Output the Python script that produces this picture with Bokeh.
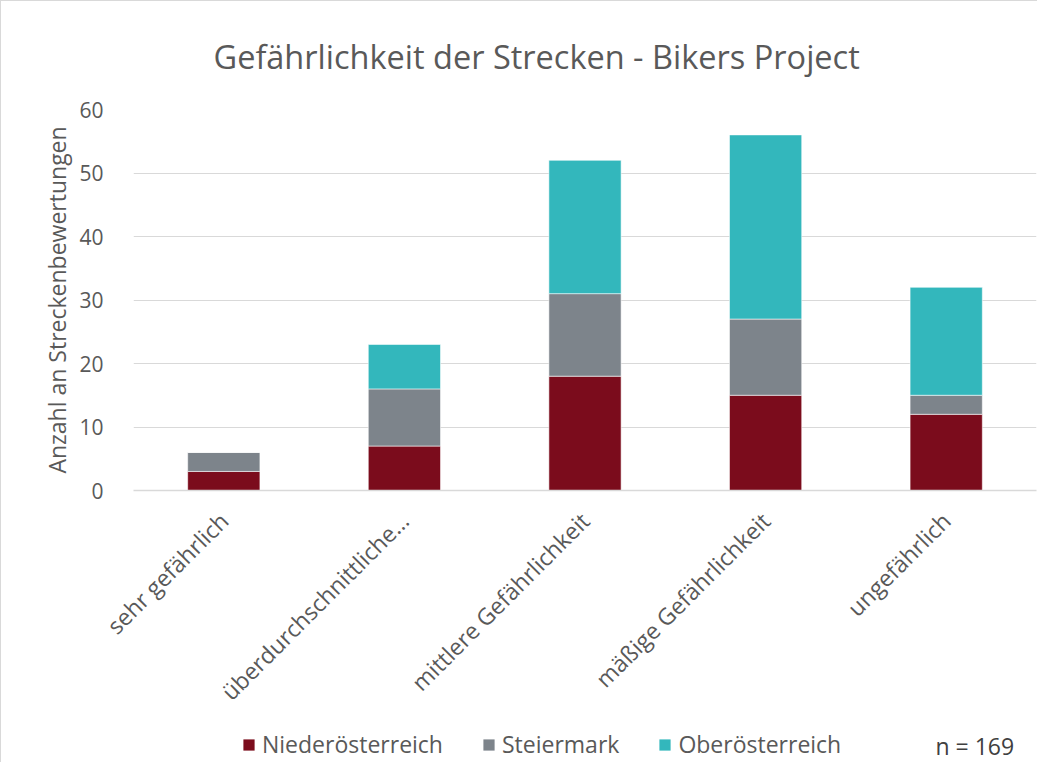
import math
from bokeh.plotting import figure
from bokeh.layouts import column
from bokeh.models import (ColumnDataSource, FactorRange, Range1d, FixedTicker,
                          Legend, LegendItem, Label)
from bokeh.embed import file_html
from bokeh.resources import INLINE

# ---- data ----
categories = ["sehr gefährlich", "überdurchschnittliche…", "mittlere Gefährlichkeit",
              "mäßige Gefährlichkeit", "ungefährlich"]
niederoesterreich = [3, 7, 18, 15, 12]
steiermark = [3, 9, 13, 12, 3]
oberoesterreich = [0, 7, 21, 29, 17]
series_names = ["Niederösterreich", "Steiermark", "Oberösterreich"]
series_colors = ["#7B0C1C", "#7D848B", "#33B7BC"]
y_ticks = [0, 10, 20, 30, 40, 50, 60]
title_text = "Gefährlichkeit der Strecken - Bikers Project"
y_label = "Anzahl an Streckenbewertungen"
n_text = "n = 169"

FONT = "Open Sans"
TXT = "#595959"
W = 1037

src = ColumnDataSource(data={
    "cat": categories,
    series_names[0]: niederoesterreich,
    series_names[1]: steiermark,
    series_names[2]: oberoesterreich,
})

# ---- main chart ----
p = figure(x_range=FactorRange(*categories), y_range=Range1d(0, 60),
           width=W, height=722, output_backend="svg", toolbar_location=None,
           min_border_left=132, min_border_right=2, min_border_top=107,
           min_border_bottom=233)
p.styles = {"border-top": "1px solid #D9D9D9", "border-left": "1px solid #D9D9D9"}

p.vbar_stack(series_names, x="cat", width=0.4, color=series_colors,
             source=src, line_color="white", line_width=0.8, line_alpha=0.7)

p.title.text = title_text
p.title.align = "left"
p.title.offset = 80
p.title.text_font = FONT
p.title.text_font_size = "32.5px"
p.title.text_font_style = "normal"
p.title.text_color = TXT
p.title.standoff = 61

p.outline_line_color = None
p.xgrid.grid_line_color = None
p.ygrid.ticker = FixedTicker(ticks=y_ticks)
p.ygrid.grid_line_color = "#D9D9D9"
p.ygrid.grid_line_width = 1

p.yaxis.ticker = FixedTicker(ticks=y_ticks)
p.yaxis.axis_line_color = None
p.yaxis.major_tick_line_color = None
p.yaxis.minor_tick_line_color = None
p.yaxis.major_label_standoff = 24
p.yaxis.major_label_text_font = FONT
p.yaxis.major_label_text_font_size = "21px"
p.yaxis.major_label_text_color = TXT
p.yaxis.axis_label = y_label
p.yaxis.axis_label_text_font = FONT
p.yaxis.axis_label_text_font_size = "23px"
p.yaxis.axis_label_text_font_style = "normal"
p.yaxis.axis_label_text_color = TXT
p.yaxis.axis_label_standoff = 3

p.xaxis.axis_line_color = "#D9D9D9"
p.xaxis.axis_line_width = 1.5
p.xaxis.major_tick_line_color = None
p.xaxis.minor_tick_line_color = None
p.xaxis.major_label_orientation = math.pi / 4
p.xaxis.major_label_standoff = 20
p.xaxis.major_label_text_font = FONT
p.xaxis.major_label_text_font_size = "23px"
p.xaxis.major_label_text_color = TXT

# ---- legend strip (its frame is aligned with the main frame: left = 132) ----
p2 = figure(x_range=p.x_range, y_range=Range1d(100, 101), width=W, height=40,
            output_backend="svg", toolbar_location=None, min_border=0,
            x_axis_location=None, y_axis_location=None, title=None)
p2.styles = {"border-left": "1px solid #D9D9D9"}
p2.grid.visible = False
p2.outline_line_color = None
leg_renderers = p2.vbar_stack(series_names, x="cat", width=0.4, color=series_colors,
                              source=src, line_color="white", line_width=0.8)

legend = Legend(items=[LegendItem(label=n, renderers=[r]) for n, r in zip(series_names, leg_renderers)],
                orientation="horizontal", location=(108, 2),
                glyph_width=15, glyph_height=15, label_standoff=6, spacing=38,
                padding=0, margin=0, border_line_color=None, background_fill_alpha=0,
                label_text_font=FONT, label_text_font_size="23px", label_text_color=TXT)
p2.add_layout(legend)

p2.add_layout(Label(x=802, y=17, x_units="screen", y_units="screen", text=n_text,
                    text_baseline="middle", text_font=FONT, text_font_size="23px",
                    text_color="#404040"))

layout = column(p, p2, spacing=0)
open("out.html", "w").write(file_html(layout, INLINE))
